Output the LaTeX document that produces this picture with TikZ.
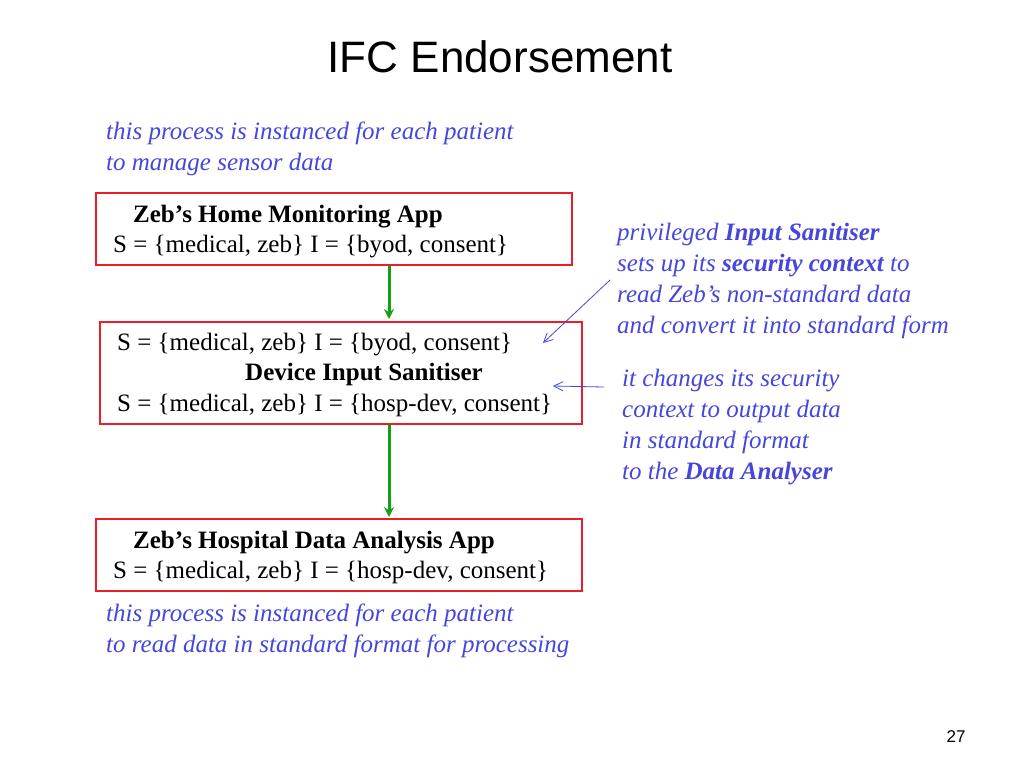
\documentclass[tikz,border=0pt]{standalone}
\usepackage{fontspec}
\setmainfont{Liberation Serif}
\newfontfamily\sansf{Liberation Sans}
\usetikzlibrary{arrows.meta}
\definecolor{bl}{RGB}{70,70,220}
\definecolor{rd}{RGB}{235,30,40}
\definecolor{gr}{RGB}{20,160,20}
\begin{document}
\begin{tikzpicture}[x=1pt,y=-1pt,
  box/.style={draw=rd,line width=1.8pt},
  txt/.style={font=\fontsize{25}{31}\selectfont,anchor=base west,inner sep=0},
  note/.style={text=bl,font=\fontsize{25}{31}\selectfont\itshape,align=left,anchor=base west,inner sep=0},
  garrow/.style={draw=gr,line width=3pt,-{Stealth[length=10pt,width=10pt]}},
  barrow/.style={draw=bl,line width=0.8pt,-{Straight Barb[length=9pt,width=9pt]}}]
\useasboundingbox (0,0) rectangle (1024,768);
\node[font=\sansf\fontsize{44}{48}\selectfont] (title) at (500,57) {IFC Endorsement};
\node[note] (n1) at (106,170) {this process is instanced for each patient\\to manage sensor data};
\draw[box] (96,193) rectangle (572,265);
\node[txt] (t1a) at (133,222) {\textbf{Zeb’s Home Monitoring App}};
\node[txt] (t1b) at (113,252) {S = \{medical, zeb\} I = \{byod, consent\}};
\draw[box] (100,322) rectangle (582,424);
\node[txt] (t2a) at (117,350) {S = \{medical, zeb\} I = \{byod, consent\}};
\node[txt] (t2b) at (245,380) {\textbf{Device Input Sanitiser}};
\node[txt] (t2c) at (117,411) {S = \{medical, zeb\} I = \{hosp-dev, consent\}};
\draw[box] (96,519) rectangle (582,591);
\node[txt] (t3a) at (133,548) {\textbf{Zeb’s Hospital Data Analysis App}};
\node[txt] (t3b) at (113,578) {S = \{medical, zeb\} I = \{hosp-dev, consent\}};
\node[note] (n3) at (106,652) {this process is instanced for each patient\\to read data in standard format for processing};
\coordinate (g1s) at (389,266); \coordinate (g1e) at (389,319);
\coordinate (g2s) at (389,425); \coordinate (g2e) at (389,517);
\draw[garrow] (g1s) -- (g1e);
\draw[garrow] (g2s) -- (g2e);
\node[note] (n2) at (617,333) {privileged \textbf{Input Sanitiser}\\sets up its \textbf{security context} to\\read Zeb’s non-standard data\\and convert it into standard form};
\node[note] (n4) at (622,479) {it changes its security\\context to output data\\in standard format\\to the \textbf{Data Analyser}};
\coordinate (a1s) at (610,280); \coordinate (a1e) at (543,343);
\coordinate (a2s) at (604,387); \coordinate (a2e) at (553,386);
\draw[barrow] (a1s) -- (a1e);
\draw[barrow] (a2s) -- (a2e);
\node[font=\sansf\fontsize{17}{18}\selectfont] (pg) at (956,737) {27};
\end{tikzpicture}
\end{document}
